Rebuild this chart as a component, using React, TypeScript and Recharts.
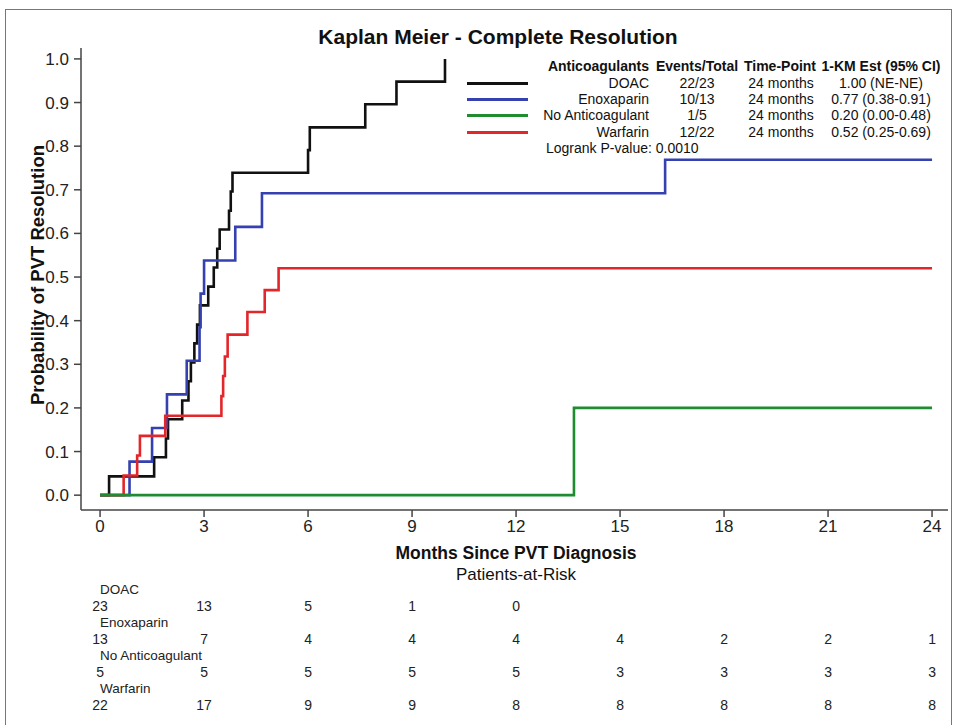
import { LineChart, Line, XAxis, YAxis } from 'recharts'

// x ticks / risk table columns (months)
const months = [0, 3, 6, 9, 12, 15, 18, 21, 24]
const probTicks = [0, 0.1, 0.2, 0.3, 0.4, 0.5, 0.6, 0.7, 0.8, 0.9, 1.0]

const groups = ['DOAC', 'Enoxaparin', 'No Anticoagulant', 'Warfarin']
const colors = ['#111111', '#3541b0', '#1f8c30', '#e3262a']

// step curves (months, 1-KM)
const doacT = [0, 0.26, 1.56, 1.9, 1.96, 2.37, 2.55, 2.62, 2.72, 2.8, 2.88, 3.12, 3.28, 3.38, 3.45, 3.72, 3.77, 3.82, 6.0, 6.05, 7.65, 8.55, 9.95]
const doacP = [0, 0.043, 0.087, 0.13, 0.174, 0.217, 0.261, 0.304, 0.348, 0.391, 0.435, 0.478, 0.522, 0.565, 0.609, 0.652, 0.696, 0.739, 0.791, 0.843, 0.896, 0.948, 1.0]

const enoxT = [0, 0.85, 1.5, 1.93, 2.5, 2.87, 2.9, 3.0, 3.9, 4.67, 16.3, 24]
const enoxP = [0, 0.077, 0.154, 0.231, 0.308, 0.385, 0.462, 0.538, 0.615, 0.692, 0.769, 0.769]

const noneT = [0, 13.67, 24]
const noneP = [0, 0.2, 0.2]

const warfT = [0, 0.68, 1.07, 1.15, 1.88, 3.5, 3.55, 3.6, 3.68, 4.25, 4.75, 5.15, 24]
const warfP = [0, 0.045, 0.091, 0.136, 0.182, 0.227, 0.273, 0.318, 0.368, 0.42, 0.47, 0.52, 0.52]

// patients at risk
const riskDoac = [23, 13, 5, 1, 0]
const riskEnox = [13, 7, 4, 4, 4, 4, 2, 2, 1]
const riskNone = [5, 5, 5, 5, 5, 3, 3, 3, 3]
const riskWarf = [22, 17, 9, 9, 8, 8, 8, 8, 8]

// legend table
const legendEvents = ['22/23', '10/13', '1/5', '12/22']
const legendTime = ['24 months', '24 months', '24 months', '24 months']
const legendKm = ['1.00 (NE-NE)', '0.77 (0.38-0.91)', '0.20 (0.00-0.48)', '0.52 (0.25-0.69)']

const toPts = (t: number[], p: number[]) => t.map((v, i) => ({ t: v, p: p[i] }))
const curves = [toPts(doacT, doacP), toPts(enoxT, enoxP), toPts(noneT, noneP), toPts(warfT, warfP)]
const risks = [riskDoac, riskEnox, riskNone, riskWarf]

const SANS = "'Liberation Sans', Arial, sans-serif"
const xDomain: [number, number] = [-0.55, 24.46]
const yDomain: [number, number] = [-0.034, 1.025]

// plot box, same numbers as the chart margins below
const W = 954
const H = 725
const M = { top: 48, right: 6, bottom: 3, left: 33 }
const Y_W = 48
const X_H = 212
const plotLeft = M.left + Y_W
const plotRight = W - M.right
// same linear map the x axis uses, for the at-risk table columns
const monthX = (m: number) => plotLeft + ((m - xDomain[0]) / (xDomain[1] - xDomain[0])) * (plotRight - plotLeft)

const abs = (s: React.CSSProperties): React.CSSProperties => ({ position: 'absolute', whiteSpace: 'nowrap', ...s })

export default function App() {
  return (
    <div style={{ position: 'absolute', left: 0, top: 0, width: W, height: H, background: '#fff', overflow: 'hidden' }}>
      <div style={abs({ left: 5, top: 9, width: 945, height: 730, border: '1px solid #777' })} />

      <LineChart width={W} height={H} margin={M}>
        <XAxis xAxisId="m" type="number" dataKey="t" domain={xDomain} ticks={months} height={X_H}
          tickSize={7} tickMargin={3} stroke="#444" strokeWidth={1.5}
          tick={{ fontSize: 17, fill: '#222', fontFamily: SANS }} allowDataOverflow />
        <XAxis xAxisId="top" orientation="top" type="number" domain={xDomain} height={0} tick={false} tickLine={false} stroke="#444" strokeWidth={1.5} allowDataOverflow />
        <YAxis yAxisId="l" type="number" domain={yDomain} ticks={probTicks} width={Y_W}
          tickSize={7} tickMargin={5} stroke="#444" strokeWidth={1.5}
          tickFormatter={(v: number) => v.toFixed(1)}
          tick={{ fontSize: 17, fill: '#222', fontFamily: SANS }} allowDataOverflow />
        <YAxis yAxisId="r" orientation="right" type="number" domain={yDomain} width={0} tick={false} tickLine={false} stroke="#444" strokeWidth={1.5} allowDataOverflow />
        {[0, 1, 3, 2].map((gi) => (
          <Line key={gi} xAxisId="m" yAxisId="l" data={curves[gi]} dataKey="p" type="stepAfter"
            stroke={colors[gi]} strokeWidth={2.6} dot={false} activeDot={false} isAnimationActive={false} />
        ))}
      </LineChart>

      <div style={abs({ left: 298, width: 400, top: 24, lineHeight: '26px', textAlign: 'center', fontFamily: SANS, fontWeight: 'bold', fontSize: 21, color: '#111' })}>
        Kaplan Meier - Complete Resolution
      </div>
      <div style={abs({ left: -112, top: 264, width: 300, lineHeight: '22px', textAlign: 'center', transform: 'rotate(-90deg)', fontFamily: SANS, fontWeight: 'bold', fontSize: 18.5, color: '#111' })}>
        Probability of PVT Resolution
      </div>
      <div style={abs({ left: 316, width: 400, top: 541, lineHeight: '24px', textAlign: 'center', fontFamily: SANS, fontWeight: 'bold', fontSize: 17.5, color: '#111' })}>
        Months Since PVT Diagnosis
      </div>
      <div style={abs({ left: 316, width: 400, top: 563, lineHeight: '24px', textAlign: 'center', fontFamily: SANS, fontSize: 17, color: '#111' })}>
        Patients-at-Risk
      </div>

      {/* patients-at-risk table */}
      {groups.map((g, gi) => (
        <div key={g} style={{ fontFamily: SANS, color: '#222' }}>
          <div style={abs({ left: 100, top: 581 + gi * 33, lineHeight: '18px', fontSize: 13.5 })}>{g}</div>
          {risks[gi].map((n, k) => (
            <div key={k} style={abs({ left: monthX(months[k]) - 20, width: 40, top: 597 + gi * 33, lineHeight: '18px', textAlign: 'center', fontSize: 14 })}>{n}</div>
          ))}
        </div>
      ))}

      {/* legend table */}
      <div style={{ fontFamily: SANS, fontSize: 14, color: '#111' }}>
        <div style={abs({ left: 449, width: 200, top: 57, lineHeight: '18px', textAlign: 'right', fontWeight: 'bold' })}>Anticoagulants</div>
        <div style={abs({ left: 647, width: 100, top: 57, lineHeight: '18px', textAlign: 'center', fontWeight: 'bold' })}>Events/Total</div>
        <div style={abs({ left: 730, width: 100, top: 57, lineHeight: '18px', textAlign: 'center', fontWeight: 'bold' })}>Time-Point</div>
        <div style={abs({ left: 811, width: 140, top: 57, lineHeight: '18px', textAlign: 'center', fontWeight: 'bold' })}>1-KM Est (95% CI)</div>
        {groups.map((g, gi) => {
          const top = 73.5 + gi * 16.4
          return (
            <div key={g}>
              <div style={abs({ left: 467, width: 61, top: top + 8, height: 0, borderTop: '3px solid ' + colors[gi] })} />
              <div style={abs({ left: 449, width: 200, top, lineHeight: '18px', textAlign: 'right' })}>{g}</div>
              <div style={abs({ left: 647, width: 100, top, lineHeight: '18px', textAlign: 'center' })}>{legendEvents[gi]}</div>
              <div style={abs({ left: 731, width: 100, top, lineHeight: '18px', textAlign: 'center' })}>{legendTime[gi]}</div>
              <div style={abs({ left: 811, width: 140, top, lineHeight: '18px', textAlign: 'center' })}>{legendKm[gi]}</div>
            </div>
          )
        })}
        <div style={abs({ left: 546, top: 138.5, lineHeight: '18px' })}>Logrank P-value: 0.0010</div>
      </div>
    </div>
  )
}
